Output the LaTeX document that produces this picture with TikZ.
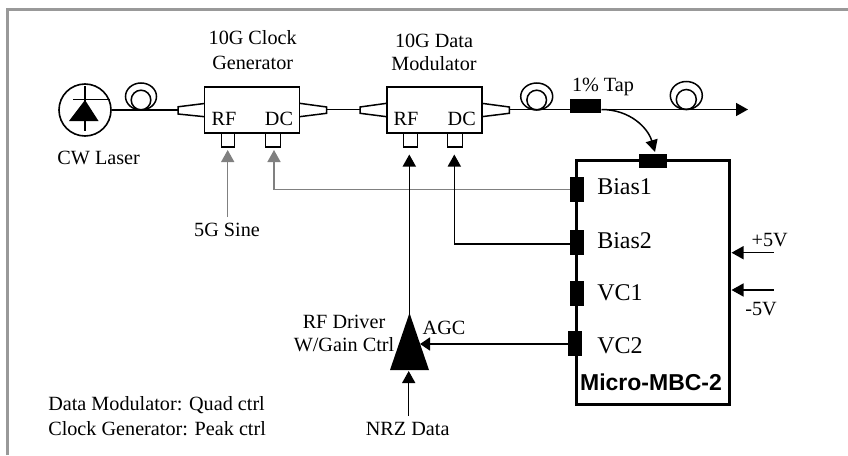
\documentclass[tikz,border=0pt]{standalone}
\usepackage{fontspec}
\setmainfont{Liberation Serif}
\newfontfamily\arialb[BoldFont={Liberation Sans Bold}]{Liberation Sans}
\usetikzlibrary{arrows.meta}
\definecolor{framegrey}{HTML}{999999}
\definecolor{sigrey}{HTML}{808080}
\tikzset{
  wire/.style={line width=1.5pt,black},
  greywire/.style={line width=1.5pt,sigrey},
  arrowed/.style={-{Triangle[length=12pt,width=13pt]}},
  txt/.style={inner sep=0pt,outer sep=0pt,anchor=base,font=\fontsize{20.2}{24}\selectfont},
  bigtxt/.style={inner sep=0pt,outer sep=0pt,anchor=base west,font=\fontsize{24}{28}\selectfont},
  modbox/.style={draw,line width=1.6pt,fill=white,inner sep=0pt,minimum width=95pt,minimum height=46.5pt},
  portbox/.style={draw,line width=1.5pt,fill=white,inner sep=0pt,minimum height=14pt},
  blk/.style={draw=none,fill=black,inner sep=0pt},
  taper/.style={draw,line width=1.5pt,fill=white,line join=miter},
  coil/.style={line width=1.5pt,draw},
}
\begin{document}
\begin{tikzpicture}[x=1pt,y=-1pt]
\useasboundingbox (0,0) rectangle (848,455);
% frame
\draw[framegrey,line width=3pt] (7.5,455) -- (7.5,9.5) -- (848,9.5);

% coordinates
\coordinate (fiberA) at (204.5,110);
\coordinate (taper1a) at (178,110);
\coordinate (taper1b) at (326.7,109.5);
\coordinate (taper2a) at (360,109.5);
\coordinate (taper2b) at (509.3,109.5);
\coordinate (outEnd) at (748,109.5);
\coordinate (sineIn) at (227.7,217);
\coordinate (sineTip) at (227.7,150);
\coordinate (dc1Tip) at (274,150);
\coordinate (dc1Corner) at (274,189.3);
\coordinate (rf2Tip) at (409.3,154.5);
\coordinate (dc2Tip) at (454.3,154.5);
\coordinate (dc2Corner) at (454.3,244);
\coordinate (tapTip) at (655,152);
\coordinate (nrzIn) at (408.7,416);
\coordinate (nrzTip) at (408.7,371);
\coordinate (agcTip) at (420,344);
\coordinate (p5a) at (773.7,252.7);
\coordinate (p5b) at (731.5,252.7);
\coordinate (m5a) at (773.7,290);
\coordinate (m5b) at (731.5,290);

% laser
\node[draw,circle,line width=1.6pt,minimum size=52pt,inner sep=0pt] (laser) at (85,110) {};
\draw[wire] (85,86) -- (85,131);
\draw[wire] (73,99.5) -- (109.5,99.5);
\fill (85,100) -- (98.5,121) -- (69,121) -- cycle;

% fibre
\draw[wire] (laser.east) -- (taper1a);
\draw[wire] (taper1b) -- (taper2a);
\draw[wire] (taper2b) -- (569.7,109.5);

% coils
\draw[coil] (141,96.5) ellipse (15.5pt and 13.5pt);
\draw[coil] (141,100) circle (9.8pt);
\draw[coil] (536.7,96.5) ellipse (16pt and 13.5pt);
\draw[coil] (536.7,100) circle (9.8pt);
\draw[coil] (686.3,95.5) ellipse (16pt and 14pt);
\draw[coil] (686.3,99.5) circle (10pt);

% tapers
\draw[taper] (204.5,103.5) -- (178,106.8) -- (178,114) -- (204.5,116.7);
\draw[taper] (299.5,103.3) -- (326.7,107) -- (326.7,113.3) -- (299.5,116.7);
\draw[taper] (386.7,103.3) -- (360,107) -- (360,113.3) -- (386.7,116.7);
\draw[taper] (481.7,103.3) -- (509.3,107) -- (509.3,113.3) -- (481.7,116.7);

% modules
\node[modbox] (clk) at (252,110) {};
\node[modbox] (dat) at (434.2,110) {};
\node[portbox,minimum width=12.6pt] (clkrf) at (228,140.2) {};
\node[portbox,minimum width=14.6pt] (clkdc) at (273,140.2) {};
\node[portbox,minimum width=13.6pt] (datrf) at (410.5,140.2) {};
\node[portbox,minimum width=15pt] (datdc) at (455.2,140.2) {};

\node[txt] (tclkrf) at (224,125.5) {RF};
\node[txt] (tclkdc) at (279,125.5) {DC};
\node[txt] (tdatrf) at (406,125.5) {RF};
\node[txt] (tdatdc) at (461.7,125.5) {DC};

% module frame
\draw[line width=3.3pt,line join=miter] (576.3,160.7) rectangle (729.7,404.3);
\node[blk,minimum width=28pt,minimum height=14.5pt] (mtop) at (653,161.2) {};
\node[blk,minimum width=14pt,minimum height=25pt] (bias1) at (576.7,189.2) {};
\node[blk,minimum width=14pt,minimum height=25pt] (bias2) at (576.7,242.5) {};
\node[blk,minimum width=14pt,minimum height=25pt] (vc1) at (576.7,293.2) {};
\node[blk,minimum width=14pt,minimum height=25pt] (vc2) at (575.3,343.4) {};
\node[blk,minimum width=31.6pt,minimum height=14.3pt] (tap) at (585.5,106.2) {};

% output
\draw[wire,arrowed] (tap.east |- outEnd) -- (outEnd);
\draw[wire,-{Triangle[length=12pt,width=12pt]}] (tap.east |- outEnd) .. controls (630,109.5) and (648,128) .. (tapTip);

% grey control lines
\draw[greywire,arrowed] (sineIn) -- (sineTip);
\draw[greywire,arrowed] (bias1.west |- dc1Corner) -- (dc1Corner) -- (dc1Tip);

% black control lines
\draw[wire,arrowed] (bias2.west |- dc2Corner) -- (dc2Corner) -- (dc2Tip);

% driver
\node[draw=none,inner sep=0pt,minimum size=0pt] (drv) at (409.5,342) {};
\fill (409.5,313) -- (429,370) -- (390,370) -- cycle;
\coordinate (drvTop) at (409.3,315);
\draw[wire,arrowed] (drvTop) -- (rf2Tip);
\draw[wire,arrowed] (nrzIn) -- (nrzTip);
\draw[wire,-{Triangle[length=10pt,width=13pt]}] (vc2.west |- agcTip) -- (agcTip);

% supply arrows
\draw[wire,arrowed] (p5a) -- (p5b);
\draw[wire,arrowed] (m5a) -- (m5b);

% labels
\node[txt] (lclk1) at (252.7,44) {10G Clock};
\node[txt] (lclk2) at (252.7,69) {Generator};
\node[txt] (ldat1) at (434,47) {10G Data};
\node[txt] (ldat2) at (434,70) {Modulator};
\node[txt] (llaser) at (98.7,164.5) {CW Laser};
\node[txt] (lsine) at (227,236.5) {5G Sine};
\node[txt] (ltap) at (603,91) {1\% Tap};
\node[bigtxt] (lb1) at (597.3,194.5) {Bias1};
\node[bigtxt] (lb2) at (597.3,248) {Bias2};
\node[bigtxt] (lv1) at (597.3,300) {VC1};
\node[bigtxt] (lv2) at (597.3,353) {VC2};
\node[inner sep=0pt,anchor=base,font=\fontsize{23}{27}\selectfont\arialb\bfseries] (lmbc) at (651,390) {Micro-MBC-2};
\node[txt] (lp5) at (769.7,246.5) {+5V};
\node[txt] (lm5) at (761,315.5) {-5V};
\node[txt] (lrf1) at (344,328.5) {RF Driver};
\node[txt] (lrf2) at (344,351.5) {W/Gain Ctrl};
\node[txt] (lagc) at (444,334.5) {AGC};
\node[txt] (lnrz) at (407.7,435.5) {NRZ Data};
\node[txt,anchor=base west] (ln1) at (48.3,410.5) {Data Modulator: Quad ctrl};
\node[txt,anchor=base west] (ln2) at (48.3,435.5) {Clock Generator: Peak ctrl};
\end{tikzpicture}
\end{document}
